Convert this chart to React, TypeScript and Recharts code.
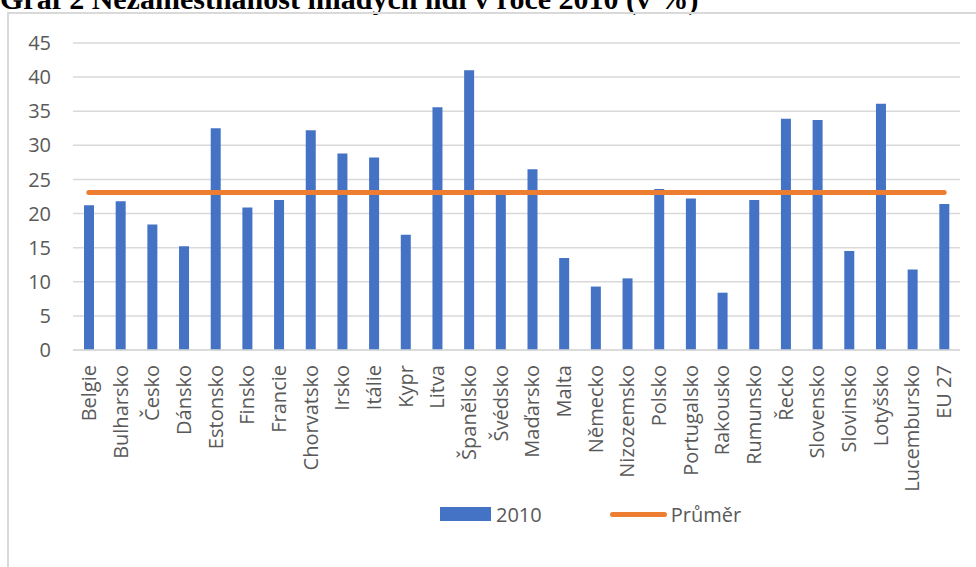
import { ComposedChart, Bar, Line, XAxis, YAxis, CartesianGrid } from 'recharts'

const countries = [
  'Belgie', 'Bulharsko', 'Česko', 'Dánsko', 'Estonsko', 'Finsko', 'Francie',
  'Chorvatsko', 'Irsko', 'Itálie', 'Kypr', 'Litva', 'Španělsko', 'Švédsko',
  'Maďarsko', 'Malta', 'Německo', 'Nizozemsko', 'Polsko', 'Portugalsko',
  'Rakousko', 'Rumunsko', 'Řecko', 'Slovensko', 'Slovinsko', 'Lotyšsko',
  'Lucembursko', 'EU 27',
]

const values2010 = [
  21.2, 21.8, 18.4, 15.2, 32.5, 20.9, 22.0, 32.2, 28.8, 28.2, 16.9, 35.6, 41.0, 23.4,
  26.5, 13.5, 9.3, 10.5, 23.6, 22.2, 8.4, 22.0, 33.9, 33.7, 14.5, 36.1, 11.8, 21.4,
]

const prumer = [
  23.1, 23.1, 23.1, 23.1, 23.1, 23.1, 23.1, 23.1, 23.1, 23.1, 23.1, 23.1, 23.1, 23.1,
  23.1, 23.1, 23.1, 23.1, 23.1, 23.1, 23.1, 23.1, 23.1, 23.1, 23.1, 23.1, 23.1, 23.1,
]

const yTicks = [0, 5, 10, 15, 20, 25, 30, 35, 40, 45]

const data = countries.map((name, i) => ({
  name,
  v2010: values2010[i],
  prumer: prumer[i],
}))

const FONT = '"Open Sans", sans-serif'
const GREY = '#595959'

function XTick({ x, y, payload }: any) {
  return (
    <g transform={`translate(${x},${y})`}>
      <text
        transform='rotate(-90)'
        x={-15}
        dy='0.35em'
        textAnchor='end'
        fill={GREY}
        fontSize={20}
        fontFamily={FONT}
      >
        {payload.value}
      </text>
    </g>
  )
}

export default function App() {
  return (
    <div
      style={{
        position: 'absolute',
        top: 0,
        left: 0,
        width: 976,
        height: 567,
        overflow: 'hidden',
        background: '#fff',
      }}
    >
      <div
        style={{
          position: 'absolute',
          top: -16,
          left: 0,
          whiteSpace: 'nowrap',
          fontFamily: '"Liberation Serif", serif',
          fontWeight: 'bold',
          fontSize: 30,
          lineHeight: '30px',
          color: '#000',
        }}
      >
        Graf 2 Nezaměstnanost mladých lidí v roce 2010 (v %)
      </div>
      <div
        style={{
          position: 'absolute',
          top: 12,
          left: 7,
          width: 1000,
          height: 600,
          border: '2px solid #d9d9d9',
        }}
      />
      <div style={{ position: 'absolute', top: 0, left: 0 }}>
        <ComposedChart
          width={976}
          height={567}
          data={data}
          margin={{ top: 43, right: 16, left: 0, bottom: 77 }}
        >
          <CartesianGrid vertical={false} stroke='#d9d9d9' strokeWidth={1.5} />
          <XAxis
            dataKey='name'
            interval={0}
            height={140}
            tickLine={false}
            tickSize={0}
            tickMargin={0}
            axisLine={{ stroke: '#d9d9d9', strokeWidth: 1.5 }}
            tick={<XTick />}
          />
          <YAxis
            width={73}
            domain={[0, 45]}
            ticks={yTicks}
            axisLine={false}
            tickLine={false}
            tickSize={0}
            tickMargin={22}
            tick={{ fill: GREY, fontSize: 20, fontFamily: FONT }}
          />
          <Bar dataKey='v2010' fill='#4472C4' barSize={10} isAnimationActive={false} />
          <Line
            dataKey='prumer'
            stroke='#ED7D31'
            strokeWidth={5}
            strokeLinecap='round'
            dot={false}
            activeDot={false}
            isAnimationActive={false}
          />
        </ComposedChart>
      </div>
      <div
        style={{
          position: 'absolute',
          top: 500,
          left: 440,
          display: 'flex',
          alignItems: 'center',
          fontFamily: FONT,
          fontSize: 20,
          color: GREY,
          height: 28,
        }}
      >
        <span style={{ width: 51, height: 14, background: '#4472C4', display: 'inline-block' }} />
        <span style={{ marginLeft: 5 }}>2010</span>
        <span
          style={{
            marginLeft: 68,
            width: 57,
            height: 5,
            borderRadius: 3,
            background: '#ED7D31',
            display: 'inline-block',
          }}
        />
        <span style={{ marginLeft: 4 }}>Průměr</span>
      </div>
    </div>
  )
}
